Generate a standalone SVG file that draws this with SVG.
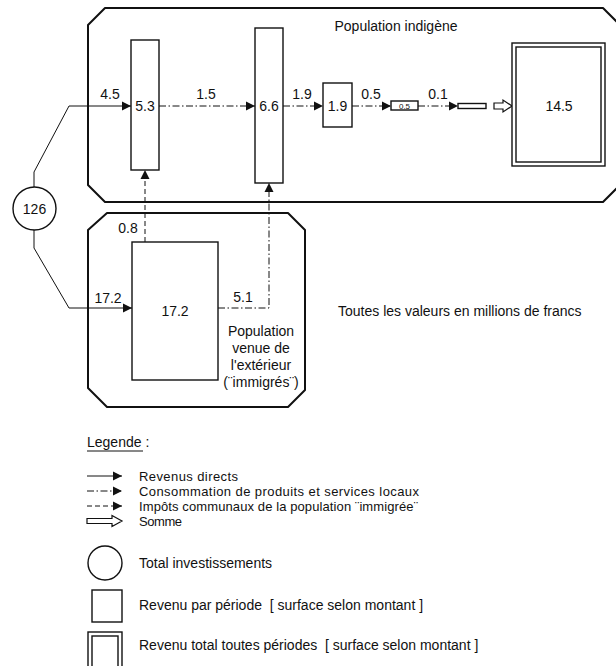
<svg xmlns="http://www.w3.org/2000/svg" width="616" height="666" viewBox="0 0 616 666">
<style>
  text { font-family: "Liberation Sans", Arial, sans-serif; fill: #111; }
  .num { font-size: 14px; text-anchor: middle; }
  .lbl { font-size: 14px; }
  .leg { font-size: 13px; }
  .region { fill: none; stroke: #111; stroke-width: 2; stroke-linejoin: round; }
  .box { fill: #fff; stroke: #111; stroke-width: 1.4; }
  .solid { fill: none; stroke: #111; stroke-width: 1; }
  .dashdot { fill: none; stroke: #111; stroke-width: 1; stroke-dasharray: 7 2.5 1.5 2.5; }
  .dashed { fill: none; stroke: #111; stroke-width: 1; stroke-dasharray: 5 3; }
  .hollow { fill: #fff; stroke: #111; stroke-width: 1.2; stroke-linejoin: miter; }
</style>
<defs>
  <marker id="ah" markerUnits="userSpaceOnUse" markerWidth="10" markerHeight="10" refX="9" refY="5" orient="auto" viewBox="0 0 10 10">
    <path d="M0,0.5 L9,5 L0,9.5 Z" fill="#111"/>
  </marker>
</defs>

<g id="region-indigene">
  <path class="region" d="M105,8 H603 L620,25 V185 L603,202 H105 L88,185 V25 Z"/>
  <text class="lbl" x="396" y="31" text-anchor="middle">Population indigène</text>
</g>

<g id="region-exterieur">
  <path class="region" d="M107,213 H288 L305,230 V390 L288,407 H107 L88,388 V230 Z"/>
  <text class="lbl" x="261" y="336" text-anchor="middle">Population</text>
  <text class="lbl" x="261" y="353" text-anchor="middle">venue de</text>
  <text class="lbl" x="261" y="370" text-anchor="middle">l'extérieur</text>
  <text class="lbl" x="261" y="387" text-anchor="middle">(¨immigrés¨)</text>
</g>

<g id="connectors">
  <path class="solid" d="M34,187 V172 L69,106 H131" marker-end="url(#ah)"/>
  <path class="solid" d="M34,230 V248 L69,308 H132" marker-end="url(#ah)"/>
  <path class="dashdot" d="M159,106 H255" marker-end="url(#ah)"/>
  <path class="dashdot" d="M283,106 H323" marker-end="url(#ah)"/>
  <path class="dashdot" d="M352,106 H391" marker-end="url(#ah)"/>
  <path class="dashdot" d="M418,106 H458" marker-end="url(#ah)"/>
  <path class="dashed" d="M145,242 V170" marker-end="url(#ah)"/>
  <path class="dashdot" d="M218,308 H269 V183" marker-end="url(#ah)"/>
  <path class="hollow" d="M494,103 H503 V100 L512,106 L503,112 V109 H494 Z"/>
  <text class="num" x="110" y="99">4.5</text>
  <text class="num" x="206" y="99">1.5</text>
  <text class="num" x="302" y="99">1.9</text>
  <text class="num" x="371" y="99">0.5</text>
  <text class="num" x="438" y="99">0.1</text>
  <text class="num" x="128" y="233">0.8</text>
  <text class="num" x="108" y="303">17.2</text>
  <text class="num" x="243" y="302">5.1</text>
</g>

<g id="node-126">
  <circle cx="34.5" cy="208.5" r="21.5" fill="#fff" stroke="#111" stroke-width="1.4"/>
  <text class="num" x="34.5" y="213.5">126</text>
</g>

<g id="node-5-3">
  <rect class="box" x="131" y="40" width="28" height="130"/>
  <text class="num" x="145" y="111">5.3</text>
</g>

<g id="node-6-6">
  <rect class="box" x="255" y="28" width="28" height="155"/>
  <text class="num" x="269" y="111">6.6</text>
</g>

<g id="node-1-9">
  <rect class="box" x="323" y="83" width="29" height="44"/>
  <text class="num" x="337.5" y="111">1.9</text>
</g>

<g id="node-0-5">
  <rect class="box" x="391" y="101" width="27" height="9"/>
  <text x="404.5" y="108.5" font-size="8" text-anchor="middle">0.5</text>
</g>

<g id="node-0-1">
  <rect class="box" x="458" y="103.5" width="28" height="5"/>
</g>

<g id="node-14-5">
  <rect class="box" x="512" y="43" width="93" height="123"/>
  <rect class="box" x="516" y="47" width="85" height="115"/>
  <text class="num" x="559" y="111">14.5</text>
</g>

<g id="node-17-2">
  <rect class="box" x="132" y="242" width="86" height="138"/>
  <text class="num" x="175" y="316">17.2</text>
</g>

<text class="lbl" x="338" y="316">Toutes les valeurs en millions de francs</text>

<g id="legend">
  <text class="lbl" x="87" y="447">Legende :</text>
  <line x1="87" y1="451" x2="143" y2="451" stroke="#111" stroke-width="1"/>
  <path class="solid" d="M87,476 H122" marker-end="url(#ah)"/>
  <text class="leg" x="139" y="481" textLength="99">Revenus directs</text>
  <path class="dashdot" d="M87,491 H122" marker-end="url(#ah)"/>
  <text class="leg" x="139" y="496" textLength="280">Consommation de produits et services locaux</text>
  <path class="dashed" d="M87,506 H122" marker-end="url(#ah)"/>
  <text class="leg" x="139" y="511" textLength="279">Impôts communaux de la population ¨immigrée¨</text>
  <path class="hollow" d="M87,518.5 H112 V515.5 L122,521 L112,526.5 V523.5 H87 Z"/>
  <text class="leg" x="139" y="526" textLength="43">Somme</text>
  <circle cx="105" cy="563" r="17" fill="none" stroke="#111" stroke-width="1.4"/>
  <text class="lbl" x="139" y="568">Total investissements</text>
  <rect class="box" x="92" y="590" width="30" height="32"/>
  <text class="lbl" x="139" y="610">Revenu par période&#160; [ surface selon montant ]</text>
  <rect class="box" x="88" y="632" width="34" height="40"/>
  <rect class="box" x="92" y="636" width="26" height="36"/>
  <text class="lbl" x="139" y="650">Revenu total toutes périodes&#160; [ surface selon montant ]</text>
</g>
</svg>
